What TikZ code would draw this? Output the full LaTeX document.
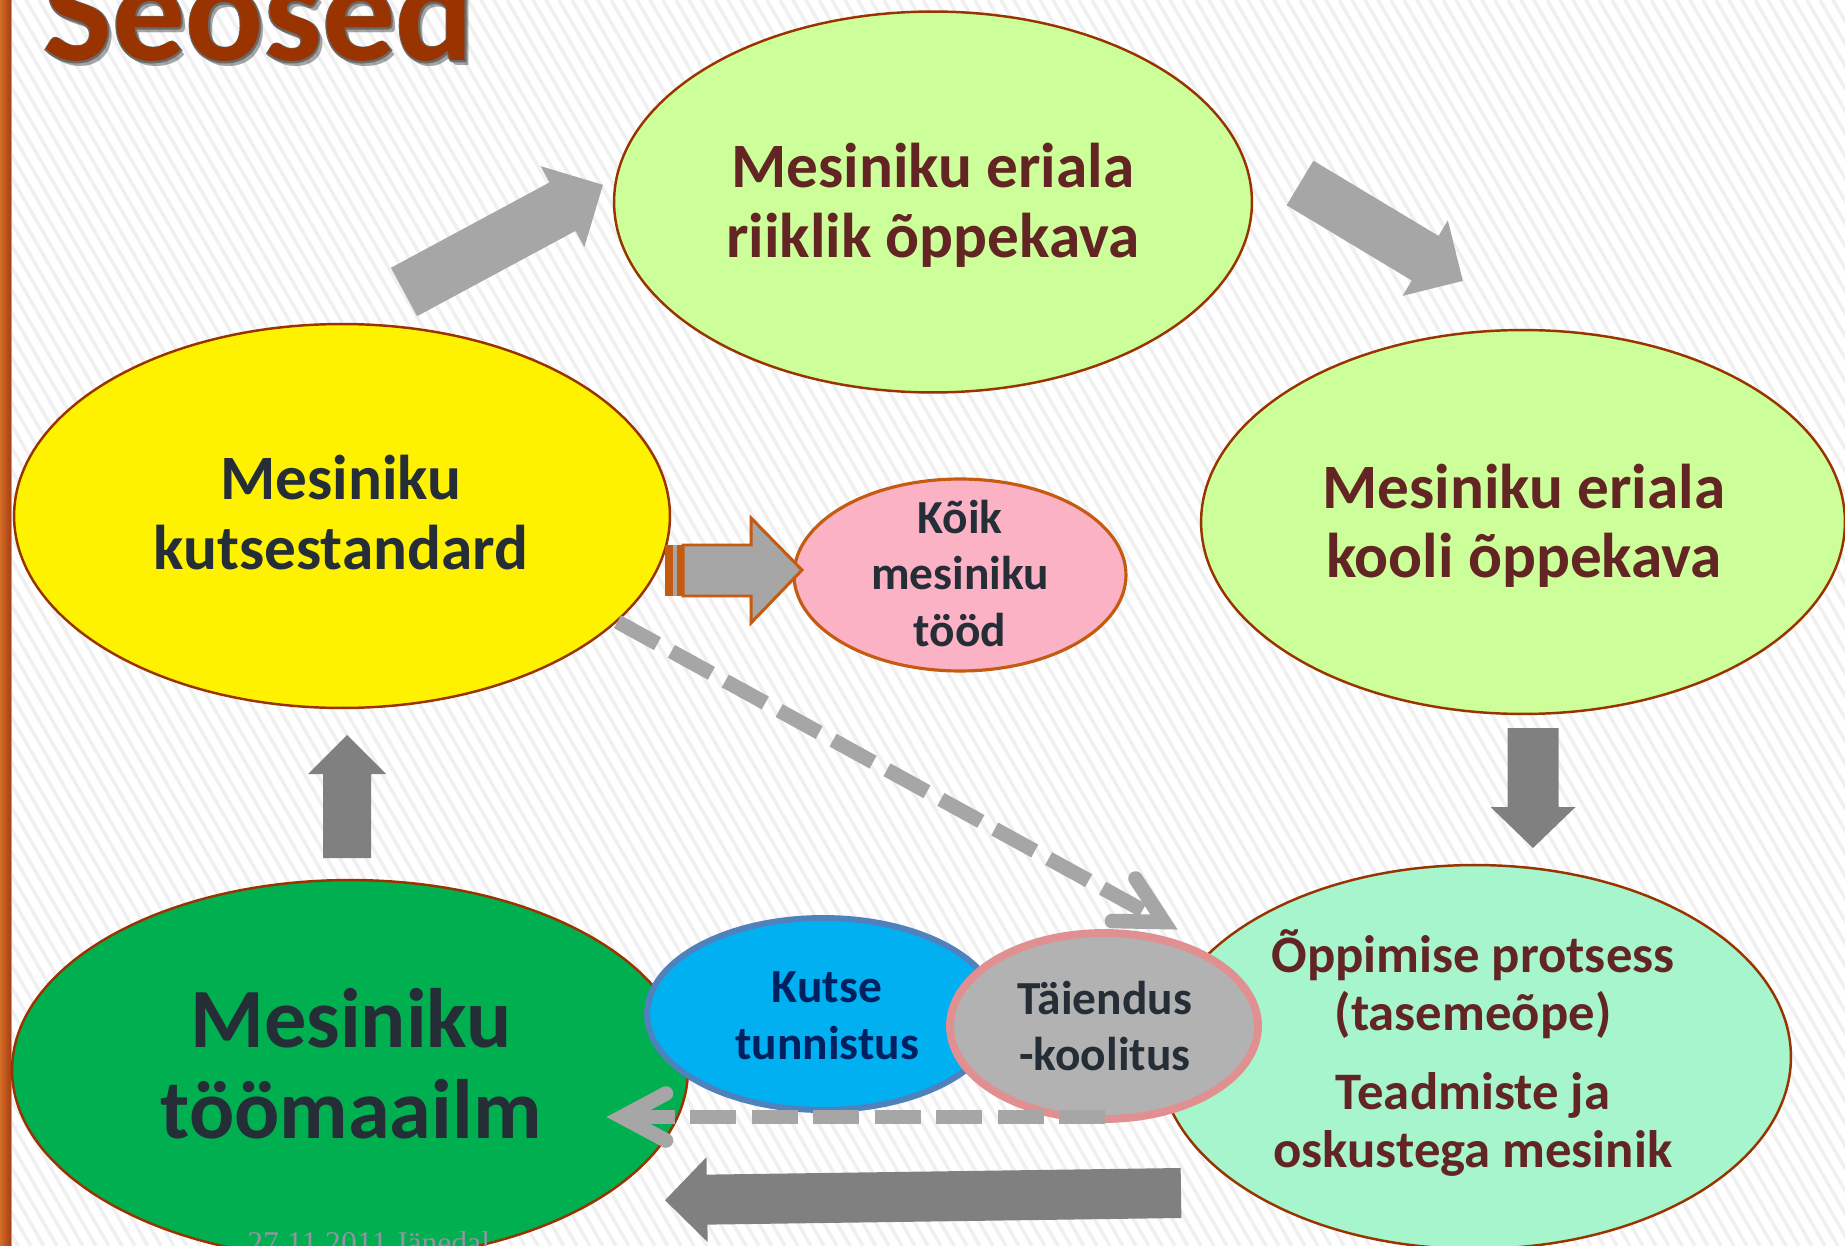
\documentclass[tikz,border=0pt]{standalone}
\usepackage{fontspec}
\setmainfont{Carlito}
\newfontfamily\datefont{Liberation Serif}
\newfontfamily\titleolfont[FakeBold=2]{Carlito}
\usetikzlibrary{shapes.geometric,calc}
\definecolor{ebrown}{RGB}{153,51,0}
\definecolor{lgreen}{RGB}{204,255,153}
\definecolor{pinkf}{RGB}{250,178,196}
\definecolor{porange}{RGB}{197,90,17}
\definecolor{wgreen}{RGB}{0,176,80}
\definecolor{mintf}{RGB}{166,245,204}
\definecolor{kblue}{RGB}{0,176,240}
\definecolor{kbord}{RGB}{79,129,189}
\definecolor{tgrey}{RGB}{178,178,178}
\definecolor{tbord}{RGB}{224,144,144}
\definecolor{darrow}{RGB}{128,128,128}
\definecolor{larrow}{RGB}{166,166,166}
\definecolor{txtdark}{RGB}{37,45,54}
\definecolor{txtmaroon}{RGB}{99,37,35}
\definecolor{txtnavy}{RGB}{0,32,96}
\definecolor{stripec}{RGB}{240,240,240}
\definecolor{datec}{RGB}{145,148,162}
\definecolor{barl}{RGB}{212,108,38}
\definecolor{barr}{RGB}{165,62,18}
\definecolor{titleol}{RGB}{105,105,105}
\newcommand\mylines[1]{\begin{tabular}[t]{@{}c@{}}#1\end{tabular}}
\newcommand\blockarrow[7]{\fill[#7,shift={(#1)},rotate=#2] (0,-#4) -- (#3-#6,-#4) -- (#3-#6,-#5) -- (#3,0) -- (#3-#6,#5) -- (#3-#6,#4) -- (0,#4) -- cycle;}
\begin{document}
\begin{tikzpicture}[x=0.02cm,y=-0.02cm,
  ell/.style={ellipse, inner sep=0pt, draw=ebrown, line width=1.4pt},
  txtbig/.style={inner sep=0pt, anchor=base, font=\bfseries\fontsize{36}{39.7}\selectfont},
  txtsmall/.style={inner sep=0pt, anchor=base, font=\bfseries\fontsize{27}{32.4}\selectfont},
  dashln/.style={draw=larrow, line width=8.3pt, dash pattern=on 26pt off 9pt},
  chev/.style={draw=larrow, line width=8.3pt, line cap=round, line join=miter, miter limit=10},
  titlefont/.style={inner sep=0pt, anchor=base west, font=\bfseries\fontsize{83}{90}\selectfont}]
\useasboundingbox (0,0) rectangle (1845,1246);
\begin{scope}
\clip (0,0) rectangle (1845,1246);
% background
\fill[white] (0,0) rectangle (1845,1246);
\foreach \i in {-57,...,142} \draw[stripec, line width=2pt] (\i*13,0) -- ++(720,1246);
\shade[left color=barl, right color=barr] (0,0) rectangle (11,1246);
\draw[gray!70, line width=0.6pt] (11.5,0) -- (11.5,1246);
% title
\node[titlefont, text=black, opacity=0.35] (titlesh) at (47,66) {Seosed};
\node[titlefont, text=titleol, font=\titleolfont\bfseries\fontsize{83}{90}\selectfont] (titleo) at (43,61) {Seosed};
\node[titlefont, text=ebrown] (title) at (43,61) {Seosed};
% ellipses
\node[ell, fill=lgreen, minimum width=12.76cm, minimum height=7.62cm] (rk) at (933,202) {};
\node[ell, fill=yellow, minimum width=13.12cm, minimum height=7.68cm] (ks) at (342,516) {};
\node[ell, fill=lgreen, minimum width=12.88cm, minimum height=7.68cm] (ko) at (1523,522) {};
\node[ell, fill=pinkf, draw=porange, line width=1.8pt, minimum width=6.64cm, minimum height=3.84cm] (kt) at (960,575) {};
\node[ell, fill=wgreen, minimum width=13.52cm, minimum height=7.6cm] (tm) at (350,1070) {};
\node[ell, fill=mintf, minimum width=12.64cm, minimum height=7.68cm] (op) at (1475,1057) {};
\node[ell, fill=kblue, draw=kbord, line width=3.4pt, minimum width=7.04cm, minimum height=3.84cm] (ku) at (823,1014) {};
\node[ell, fill=tgrey, draw=tbord, line width=4.5pt, minimum width=6.16cm, minimum height=3.72cm] (tk) at (1104,1026) {};
% texts
\node[txtbig, text=txtmaroon] (rkt) at (933,188) {\mylines{Mesiniku eriala\\riiklik õppekava}};
\node[txtbig, text=txtdark] (kst) at (341,500) {\mylines{Mesiniku\\kutsestandard}};
\node[txtbig, text=txtmaroon] (kot) at (1524,508) {\mylines{Mesiniku eriala\\kooli õppekava}};
\node[txtsmall, text=txtdark] (ktt) at (960,533) {\mylines{Kõik\\mesiniku\\tööd}};
\node[inner sep=0pt, anchor=base, font=\bfseries\fontsize{48}{52.2}\selectfont, text=txtdark] (tmt) at (351,1047) {\mylines{Mesiniku\\töömaailm}};
\node[txtsmall, text=txtnavy, font=\bfseries\fontsize{27}{32.9}\selectfont] (kut) at (827,1002) {\mylines{Kutse\\tunnistus}};
\node[txtsmall, text=txtdark] (tkt) at (1105,1014) {\mylines{Täiendus\\-koolitus}};
\node[inner sep=0pt, anchor=base, font=\bfseries\fontsize{30}{33.4}\selectfont, text=txtmaroon] (opt) at (1473,972) {\mylines{Õppimise protsess\\(tasemeõpe)\\[11.3pt]Teadmiste ja\\oskustega mesinik}};
% block arrows
\blockarrow{404,292}{28.3}{226}{27.5}{46}{46}{larrow}
\blockarrow{1300,183}{-31}{190}{26}{44}{44}{larrow}
\blockarrow{1533,728}{-90}{120}{25.5}{42.5}{41}{darrow}
\blockarrow{347,858}{90}{123}{24}{39}{39}{darrow}
\blockarrow{1181,1193}{180.8}{516}{25}{42.5}{42}{darrow}
% striped arrow to pink
\fill[larrow] (665,545) rectangle (683,596);
\fill[porange] (665,545) rectangle (673,596);
\fill[porange] (677,545) rectangle (683,596);
\filldraw[fill=larrow, draw=porange, line width=1.7pt, line join=miter] (683,545) -- (751,545) -- (751,518) -- (802,570) -- (751,623) -- (751,596) -- (683,596) -- cycle;
% dashed arrows
\coordinate (dv1) at (1164,922);
\draw[dashln] (ks.-21) -- (dv1);
\draw[chev] (1135.5,878.5) -- (dv1) -- (1112,921);
\coordinate (ds2) at (1105,1117);
\coordinate (dv2) at (622,1117);
\draw[dashln] (ds2) -- (dv2);
\draw[chev] (666,1093.5) -- (dv2) -- (666,1140.5);
% date
\node[anchor=base west, inner sep=0pt, font=\datefont\fontsize{18}{20}\selectfont, text=datec] (date) at (247,1253) {27.11.2011 Jänedal};
\end{scope}
\end{tikzpicture}
\end{document}
